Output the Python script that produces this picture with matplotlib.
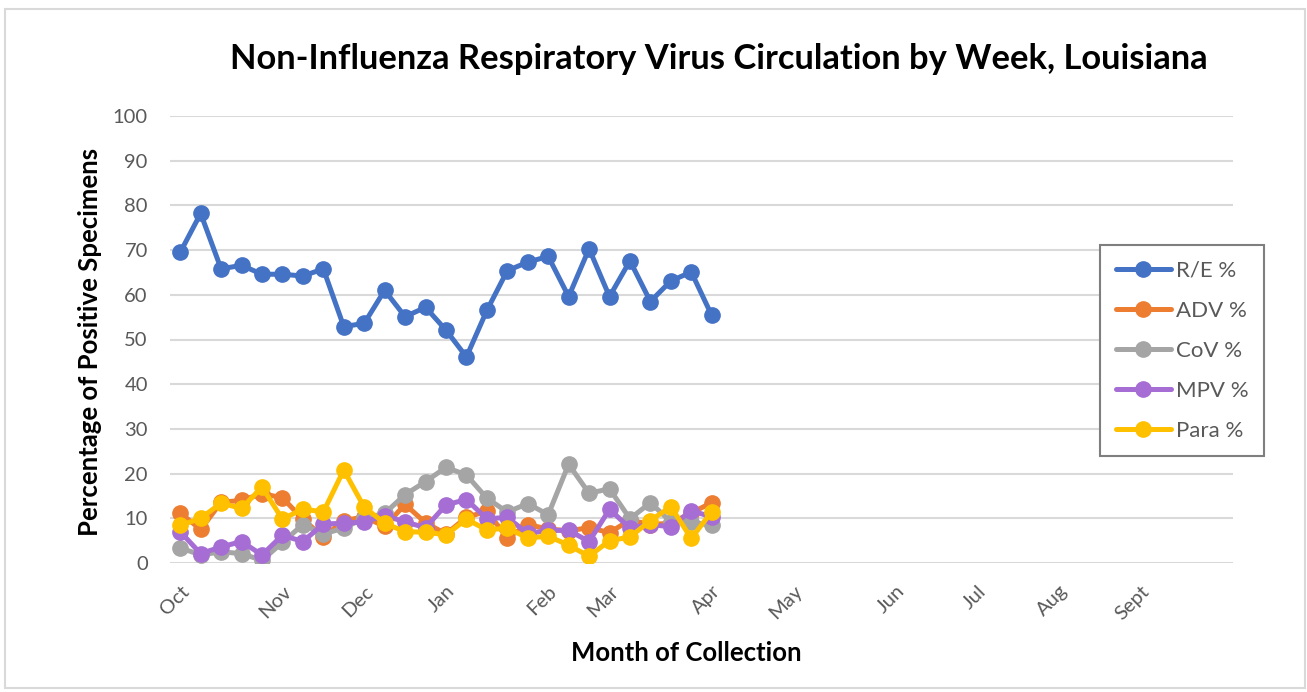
import numpy as np
import matplotlib
matplotlib.use("Agg")
from matplotlib import pyplot as plt
from matplotlib.patches import Rectangle

# weekly percent positive, Oct -> Apr
re_pct = [69.5, 78.2, 65.8, 66.6, 64.6, 64.6, 64.2, 65.8, 52.9, 53.6, 61.0, 55.1, 57.2, 52.1,
          46.1, 56.5, 65.4, 67.3, 68.6, 59.6, 70.3, 59.6, 67.6, 58.5, 63.1, 65.1, 55.4]
adv_pct = [11.2, 7.5, 13.6, 14.0, 15.5, 14.6, 9.8, 5.8, 9.5, 10.3, 8.2, 13.1, 9.0, 6.5,
           10.2, 11.6, 5.6, 8.6, 7.6, 7.2, 7.9, 6.8, 9.6, 8.6, 8.9, 11.2, 13.5]
cov_pct = [3.4, 1.8, 2.5, 2.1, 0.6, 4.6, 8.6, 6.5, 7.8, 10.0, 11.1, 15.3, 18.2, 21.4,
           19.7, 14.5, 11.4, 13.3, 10.8, 22.1, 15.6, 16.6, 9.9, 13.5, 9.2, 9.2, 8.4]
mpv_pct = [7.0, 2.1, 3.6, 4.8, 1.8, 6.2, 4.8, 8.7, 8.9, 9.2, 10.6, 9.2, 7.9, 13.0,
           14.2, 9.9, 10.2, 6.6, 7.3, 7.3, 4.8, 12.0, 7.8, 8.6, 8.1, 11.7, 10.3]
para_pct = [8.4, 10.0, 13.4, 12.2, 17.0, 9.8, 12.1, 11.4, 20.8, 12.5, 8.9, 7.0, 6.9, 6.3,
            9.8, 7.4, 7.8, 5.6, 6.0, 4.0, 1.5, 5.0, 5.8, 9.5, 12.6, 5.5, 11.5]

series_names = ["R/E %", "ADV %", "CoV %", "MPV %", "Para %"]
colors = ["#4472C4", "#ED7D31", "#A5A5A5", "#A66DD4", "#FFC000"]

n_weeks = 52
month_weeks = [0, 5, 9, 13, 18, 21, 26, 30, 35, 39, 43, 47]
month_labels = ["Oct", "Nov", "Dec", "Jan", "Feb", "Mar", "Apr", "May", "Jun", "Jul", "Aug", "Sept"]


def main():
    plt.rcParams['font.family'] = ['Lato', 'DejaVu Sans']
    W, H = 1307, 692
    fig = plt.figure(figsize=(W / 100, H / 100), dpi=100)
    ax = fig.add_axes([170 / W, 1 - 563 / H, (1233 - 170) / W, (563 - 116) / H])

    weeks = np.arange(len(re_pct))
    for vals, name, c in zip([re_pct, adv_pct, cov_pct, mpv_pct, para_pct], series_names, colors):
        ax.plot(weeks, vals, color=c, lw=3.6, marker='o', ms=11, label=name,
                solid_capstyle='round', solid_joinstyle='round')

    ax.set_xlim(-0.5, n_weeks - 0.5)
    ax.set_ylim(0, 100)
    ax.set_yticks(range(0, 101, 10))
    ax.grid(axis='y', color='#D9D9D9', lw=1.5)
    ax.set_axisbelow(True)
    for s in ax.spines.values():
        s.set_visible(False)
    ax.tick_params(axis='both', length=0, colors='#595959', labelsize=14.5)
    ax.tick_params(axis='y', pad=16)
    ax.set_xticks(month_weeks)
    ax.set_xticklabels(month_labels, rotation=45, ha='right', va='top',
                       rotation_mode='anchor')
    ax.tick_params(axis='x', pad=14)

    fig.text(719 / W, 1 - 59 / H, "Non-Influenza Respiratory Virus Circulation by Week, Louisiana",
             ha='center', va='center', fontsize=24.8, fontweight='bold', color='black')
    fig.text(90 / W, 1 - 342 / H, "Percentage of Positive Specimens", rotation=90,
             ha='center', va='center', fontsize=18.5, fontweight='bold', color='black')
    fig.text(686 / W, 1 - 653 / H, "Month of Collection", ha='center', va='center',
             fontsize=18.5, fontweight='bold', color='black')

    leg = ax.legend(loc='upper left', bbox_to_anchor=(1100 / W, 1 - 245 / H),
                    bbox_transform=fig.transFigure, borderaxespad=0, fontsize=16,
                    labelcolor='#595959', handlelength=2.5, handletextpad=0.2,
                    labelspacing=0.9, borderpad=0.7, fancybox=False,
                    edgecolor='#7F7F7F', framealpha=1)
    leg.get_frame().set_linewidth(1.5)

    fig.patches.append(Rectangle((5 / W, 1 - 688 / H), 1300 / W, 679 / H,
                                 transform=fig.transFigure, fill=False,
                                 edgecolor='#D9D9D9', lw=1.5))
    fig.savefig('out.png', dpi=100)


if __name__ == "__main__":
    main()
